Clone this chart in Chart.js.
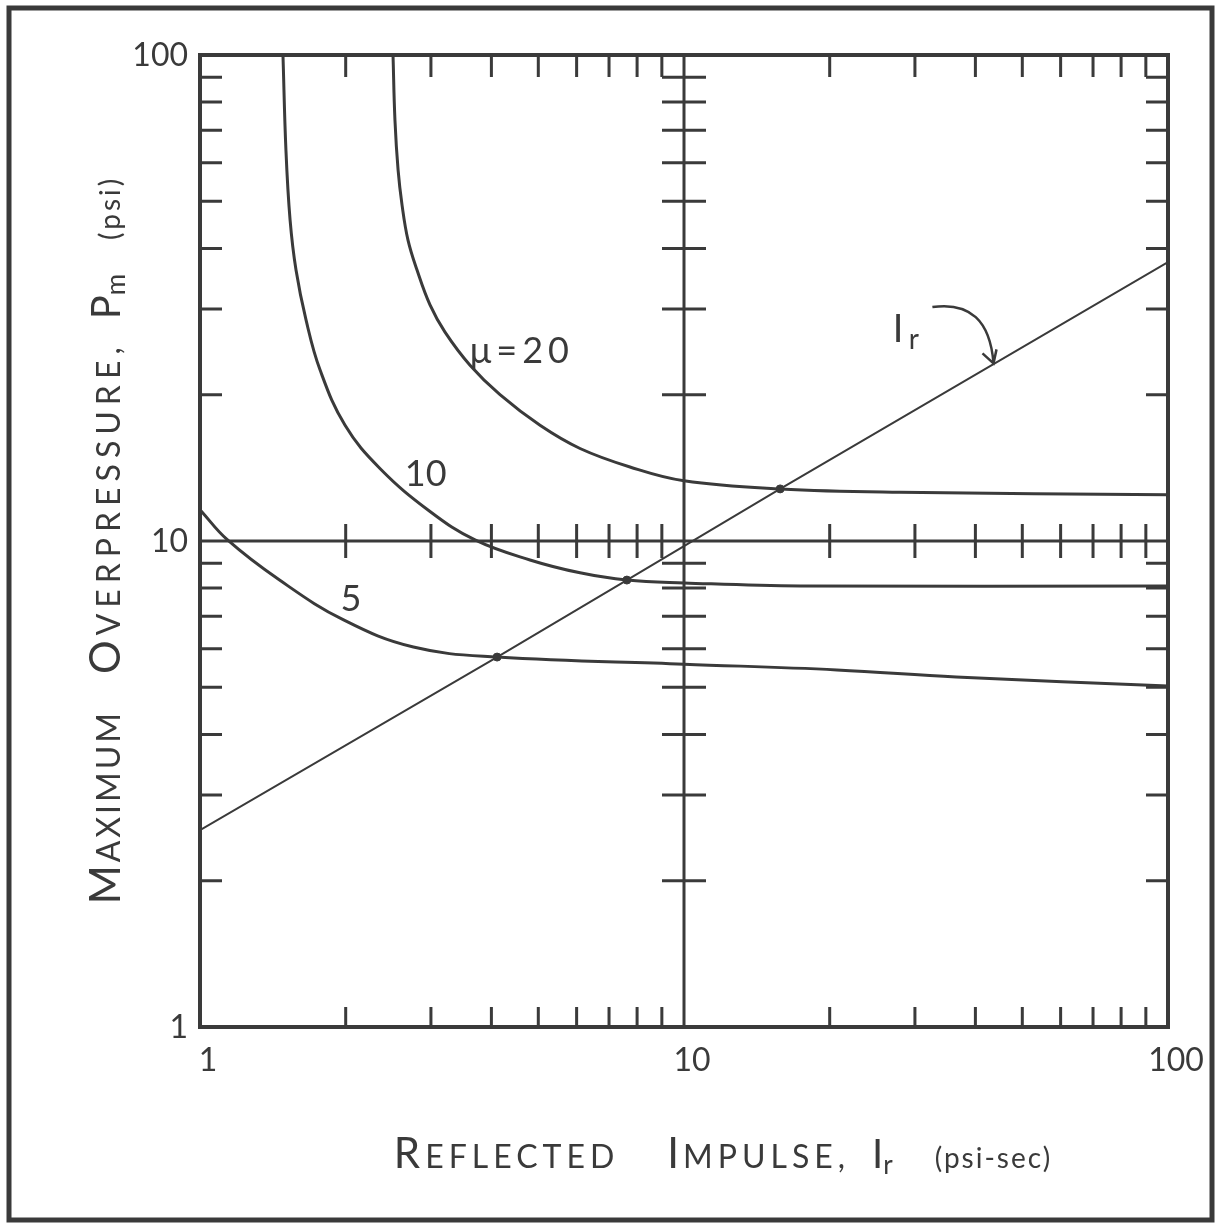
<!DOCTYPE html>
<html>
<head>
<meta charset="utf-8">
<script src="https://cdn.jsdelivr.net/npm/chart.js@4.4.1/dist/chart.umd.min.js"></script>
<style>
  html, body { margin: 0; padding: 0; background: #fff; }
  #wrap { width: 1220px; height: 1224px; }
</style>
</head>
<body>
<div id="wrap"><canvas id="chart" width="1220" height="1224"></canvas></div>
<script>
// curves: reflected impulse (psi-sec) vs max overpressure (psi)
const mu20Impulse  = [2.505, 2.528, 2.566, 2.615, 2.690, 2.808, 2.987, 3.208, 3.613, 4.167, 5.041, 6.098, 7.734, 10, 15.8, 27.9, 100];
const mu20Pressure = [100, 73.5, 58.0, 49.1, 41.6, 36.1, 30.6, 26.9, 23.0, 20.0, 17.3, 15.5, 14.2, 13.3, 12.8, 12.6, 12.45];

const mu10Impulse  = [1.484, 1.505, 1.535, 1.579, 1.656, 1.770, 1.994, 2.354, 2.987, 3.70, 4.806, 6.098, 7.62, 10, 17.4, 100];
const mu10Pressure = [100, 63.8, 45.8, 36.1, 28.5, 22.5, 17.3, 14.1, 11.5, 10.05, 9.14, 8.60, 8.31, 8.2, 8.08, 8.08];

const mu5Impulse  = [1, 1.14, 1.46, 1.98, 2.76, 4.11, 10, 20.7, 36.5, 100];
const mu5Pressure = [11.6, 10.05, 8.31, 6.88, 6.05, 5.77, 5.58, 5.43, 5.25, 5.03];

const irImpulse  = [1, 4.11, 7.62, 15.8, 100];
const irPressure = [2.54, 5.77, 8.31, 12.8, 37.5];

// marked crossings of the Ir line with the curves
const dotImpulse  = [4.11, 7.62, 15.8];
const dotPressure = [5.77, 8.31, 12.8];

const majorValues = [1, 10, 100];
const tickLabels = ['1', '10', '100'];
const minorSteps = [2, 3, 4, 5, 6, 7, 8, 9];
const minorValues = [1, 10].flatMap(d => minorSteps.map(m => m * d));

const ink = '#3a3a3a';
const fontFam = "Lato, 'DejaVu Sans', sans-serif";

const pts = (xs, ys) => xs.map((x, i) => ({ x: x, y: ys[i] }));

// draw a row of text pieces of different sizes (small caps look)
function drawPieces(ctx, pieces, cx, baseY) {
  let total = 0;
  pieces.forEach(p => {
    if (p.gap) { total += p.gap; return; }
    ctx.font = '400 ' + p.size + 'px ' + fontFam;
    p.w = ctx.measureText(p.t).width + (p.t.length) * (p.sp || 0);
    total += p.w;
  });
  let x = cx - total / 2;
  pieces.forEach(p => {
    if (p.gap) { x += p.gap; return; }
    ctx.font = '400 ' + p.size + 'px ' + fontFam;
    ctx.letterSpacing = (p.sp || 0) + 'px';
    ctx.fillText(p.t, x, baseY + (p.dy || 0));
    x += p.w;
  });
  ctx.letterSpacing = '0px';
}

const handAxes = {
  id: 'handAxes',
  beforeDatasetsDraw(chart) {
    const { ctx, chartArea: a, scales } = chart;
    const xs = scales.x, ys = scales.y;
    const x10 = xs.getPixelForValue(10), y10 = ys.getPixelForValue(10);
    ctx.save();
    ctx.strokeStyle = ink;
    ctx.lineCap = 'butt';

    // outer frame
    ctx.lineWidth = 5;
    ctx.strokeRect(9, 8, 1203, 1212);

    // plot border
    ctx.lineWidth = 4;
    ctx.strokeRect(a.left, a.top, a.right - a.left, a.bottom - a.top);

    // cross lines at 10
    ctx.lineWidth = 3;
    ctx.beginPath();
    ctx.moveTo(x10, a.top); ctx.lineTo(x10, a.bottom);
    ctx.moveTo(a.left, y10); ctx.lineTo(a.right, y10);
    ctx.stroke();

    // minor ticks
    ctx.lineWidth = 3;
    ctx.beginPath();
    minorValues.forEach(v => {
      const px = xs.getPixelForValue(v);
      ctx.moveTo(px, a.top); ctx.lineTo(px, a.top + 22);
      ctx.moveTo(px, a.bottom); ctx.lineTo(px, a.bottom - 20);
      ctx.moveTo(px, y10 - 17); ctx.lineTo(px, y10 + 17);
      const py = ys.getPixelForValue(v);
      ctx.moveTo(a.left, py); ctx.lineTo(a.left + 22, py);
      ctx.moveTo(a.right, py); ctx.lineTo(a.right - 22, py);
      ctx.moveTo(x10 - 22, py); ctx.lineTo(x10 + 22, py);
    });
    ctx.stroke();
    ctx.restore();
  },
  afterDatasetsDraw(chart) {
    const { ctx, chartArea: a, scales } = chart;
    const xs = scales.x, ys = scales.y;
    ctx.save();
    ctx.fillStyle = ink;
    ctx.strokeStyle = ink;

    // tick labels
    ctx.font = '400 32px ' + fontFam;
    ctx.textBaseline = 'middle';
    ctx.textAlign = 'right';
    majorValues.forEach((v, i) => {
      ctx.fillText(tickLabels[i], a.left - 12, ys.getPixelForValue(v) + 1);
    });
    ctx.textAlign = 'center';
    ctx.textBaseline = 'top';
    majorValues.forEach((v, i) => {
      ctx.fillText(tickLabels[i], xs.getPixelForValue(v) + 8, a.bottom + 18);
    });

    // x title
    ctx.textAlign = 'left';
    ctx.textBaseline = 'alphabetic';
    drawPieces(ctx, [
      { t: 'R', size: 42, sp: 5 }, { t: 'EFLECTED', size: 32, sp: 5 }, { gap: 48 },
      { t: 'I', size: 42, sp: 4 }, { t: 'MPULSE,', size: 32, sp: 5 }, { gap: 22 },
      { t: 'I', size: 40 }, { t: 'r', size: 26, dy: 6 }, { gap: 42 },
      { t: '(psi-sec)', size: 28, sp: 2 }
    ], 723, 1168);

    // y title
    ctx.translate(120, 540);
    ctx.rotate(-Math.PI / 2);
    drawPieces(ctx, [
      { t: 'M', size: 42, sp: 3 }, { t: 'AXIMUM', size: 32, sp: 3 }, { gap: 36 },
      { t: 'O', size: 42, sp: 5 }, { t: 'VERPRESSURE,', size: 32, sp: 6 }, { gap: 22 },
      { t: 'P', size: 40 }, { t: 'm', size: 26, dy: 5 }, { gap: 34 },
      { t: '(psi)', size: 28, sp: 3 }
    ], 0, 0);
    ctx.setTransform(1, 0, 0, 1, 0, 0);

    // curve labels, anchored in data coordinates
    ctx.font = '400 36px ' + fontFam;
    ctx.textAlign = 'left';
    ctx.textBaseline = 'middle';
    ctx.letterSpacing = '5px';
    ctx.fillText('\u03bc=20', xs.getPixelForValue(3.61), ys.getPixelForValue(24.5));
    ctx.letterSpacing = '0px';
    ctx.fillText('10', xs.getPixelForValue(2.65), ys.getPixelForValue(13.7));
    ctx.fillText('5', xs.getPixelForValue(1.95), ys.getPixelForValue(7.6));

    // Ir annotation with curved arrow
    const lx = xs.getPixelForValue(27), ly = ys.getPixelForValue(27.2);
    ctx.font = '400 38px ' + fontFam;
    ctx.fillText('I', lx, ly);
    ctx.font = '400 28px ' + fontFam;
    ctx.fillText('r', lx + 16, ly + 10);
    const ax = xs.getPixelForValue(32.6), ay = ys.getPixelForValue(30.3);
    const tx = xs.getPixelForValue(43.6), ty = ys.getPixelForValue(23.2);
    ctx.lineWidth = 2.5;
    ctx.beginPath();
    ctx.moveTo(ax, ay);
    ctx.quadraticCurveTo(tx - 5, ay - 8, tx, ty);
    ctx.moveTo(tx - 11, ty - 10); ctx.lineTo(tx, ty); ctx.lineTo(tx + 3, ty - 14);
    ctx.stroke();
    ctx.restore();
  }
};

const curveStyle = {
  borderColor: ink, borderWidth: 3, pointRadius: 0, fill: false, tension: 0.4
};

new Chart(document.getElementById('chart'), {
  type: 'line',
  data: {
    datasets: [
      Object.assign({ label: '\u03bc = 20', data: pts(mu20Impulse, mu20Pressure) }, curveStyle),
      Object.assign({ label: '\u03bc = 10', data: pts(mu10Impulse, mu10Pressure) }, curveStyle),
      Object.assign({ label: '\u03bc = 5', data: pts(mu5Impulse, mu5Pressure) }, curveStyle),
      { label: 'Ir', data: pts(irImpulse, irPressure), borderColor: ink, borderWidth: 2,
        pointRadius: 0, tension: 0, fill: false },
      { label: 'crossings', data: pts(dotImpulse, dotPressure), showLine: false,
        pointRadius: 4, pointBackgroundColor: ink, pointBorderColor: ink }
    ]
  },
  options: {
    responsive: false,
    devicePixelRatio: 1,
    animation: false,
    layout: { padding: { left: 200, top: 55, right: 52, bottom: 197 } },
    plugins: { legend: { display: false }, tooltip: { enabled: false } },
    scales: {
      x: { type: 'logarithmic', min: 1, max: 100, display: false },
      y: { type: 'logarithmic', min: 1, max: 100, display: false }
    }
  },
  plugins: [handAxes]
});
</script>
</body>
</html>
